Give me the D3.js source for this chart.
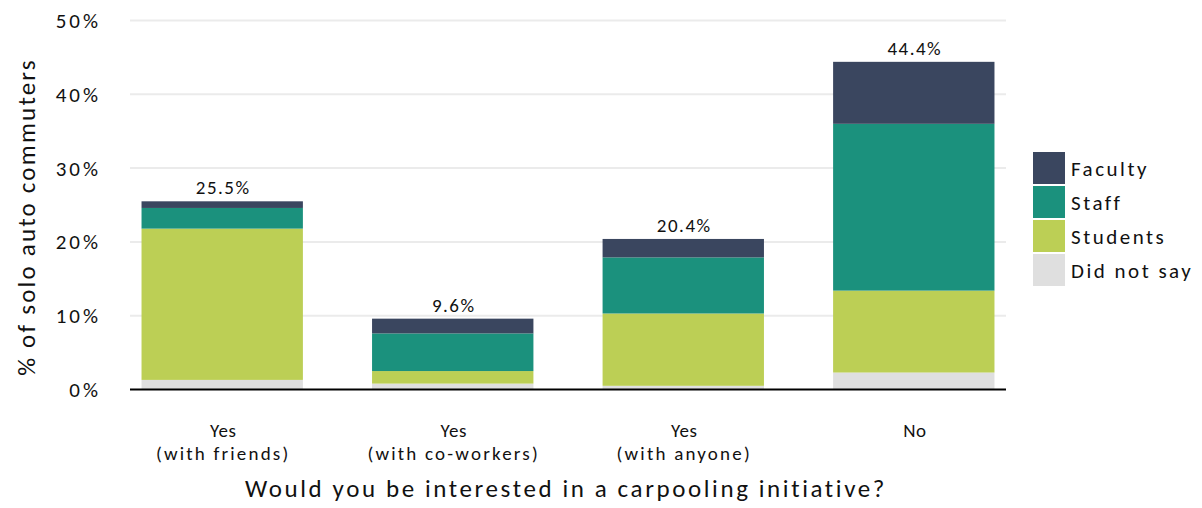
<!DOCTYPE html>
<html>
<head>
<meta charset="utf-8">
<script src="https://cdn.jsdelivr.net/npm/d3@7"></script>
<style>
  body { margin: 0; background: #fff; }
  text { font-family: Carlito, Calibri, Lato, sans-serif; fill: #111; }
</style>
</head>
<body>
<svg width="1202" height="508"></svg>
<script>
// categories (x axis), two lines each
const categories = ['Yes\n(with friends)', 'Yes\n(with co-workers)', 'Yes\n(with anyone)', 'No'];
const groups = ['Did not say', 'Students', 'Staff', 'Faculty'];

// share of solo auto commuters, in %
const didNotSay = [1.3, 0.8, 0.5, 2.3];
const students  = [20.5, 1.7, 9.8, 11.1];
const staff     = [2.8, 5.1, 7.6, 22.6];
const faculty   = [0.9, 2.0, 2.5, 8.4];
const totals    = [25.5, 9.6, 20.4, 44.4];

const yTicks = [0, 10, 20, 30, 40, 50];

const colors = {
    'Faculty': '#3a465f',
    'Staff': '#1b917d',
    'Students': '#bccf55',
    'Did not say': '#dfdfdf'
};

const rows = categories.map((c, i) => ({
    cat: c,
    'Did not say': didNotSay[i],
    'Students': students[i],
    'Staff': staff[i],
    'Faculty': faculty[i],
    total: totals[i]
}));

const svg = d3.select('svg');
const plotLeft = 130, plotRight = 1006, plotTop = 20.5, plotBottom = 389.5;

const x = d3.scaleBand()
    .domain(categories)
    .range([plotLeft, plotRight])
    .paddingInner(0.3)
    .paddingOuter(0.05);

const y = d3.scaleLinear()
    .domain([0, 50])
    .range([plotBottom, plotTop]);

// gridlines
svg.append('g')
    .selectAll('line')
    .data(yTicks.filter(t => t > 0))
    .enter()
    .append('line')
    .attr('x1', plotLeft).attr('x2', plotRight)
    .attr('y1', d => y(d)).attr('y2', d => y(d))
    .attr('stroke', '#ebebeb')
    .attr('stroke-width', 2);

// y tick labels
svg.append('g')
    .selectAll('text')
    .data(yTicks)
    .enter()
    .append('text')
    .attr('x', 101)
    .attr('y', d => y(d))
    .attr('dy', '0.36em')
    .attr('text-anchor', 'end')
    .style('font-size', '21px')
    .style('letter-spacing', '3px')
    .text(d => d + '%');

// stacked bars
const stacked = d3.stack().keys(groups)(rows);

svg.append('g')
    .selectAll('g')
    .data(stacked)
    .enter()
    .append('g')
    .attr('fill', s => colors[s.key])
    .selectAll('rect')
    .data(s => s)
    .enter()
    .append('rect')
    .attr('x', d => x(d.data.cat))
    .attr('width', x.bandwidth())
    .attr('y', d => y(d[1]))
    .attr('height', d => y(d[0]) - y(d[1]));

// baseline
svg.append('line')
    .attr('x1', plotLeft).attr('x2', plotRight)
    .attr('y1', plotBottom).attr('y2', plotBottom)
    .attr('stroke', '#000')
    .attr('stroke-width', 2);

// totals above bars
svg.append('g')
    .selectAll('text')
    .data(rows)
    .enter()
    .append('text')
    .attr('x', d => x(d.cat) + x.bandwidth() / 2 + 1)
    .attr('y', d => y(d.total) - 7)
    .attr('text-anchor', 'middle')
    .style('font-size', '19px')
    .style('letter-spacing', '1.5px')
    .text(d => d.total.toFixed(1) + '%');

// x tick labels, one text per line
categories.forEach(c => {
    c.split('\n').forEach((line, i) => {
        svg.append('text')
            .attr('x', x(c) + x.bandwidth() / 2 + 1)
            .attr('y', 437 + i * 23)
            .attr('text-anchor', 'middle')
            .style('font-size', '19px')
            .style('letter-spacing', i === 0 ? '0.5px' : '2.2px')
            .text(line);
    });
});

// axis titles
svg.append('text')
    .attr('x', 566)
    .attr('y', 497)
    .attr('text-anchor', 'middle')
    .style('font-size', '25px')
    .style('letter-spacing', '2.6px')
    .text('Would you be interested in a carpooling initiative?');

svg.append('text')
    .attr('transform', 'translate(35,' + ((plotTop + plotBottom) / 2 + 12) + ') rotate(-90)')
    .attr('text-anchor', 'middle')
    .style('font-size', '25px')
    .style('letter-spacing', '2.2px')
    .text('% of solo auto commuters');

// legend
const legend = svg.append('g')
    .selectAll('g')
    .data(groups.slice().reverse())
    .enter()
    .append('g')
    .attr('transform', (d, i) => 'translate(1033,' + (152 + i * 34) + ')');
legend.append('rect')
    .attr('width', 32)
    .attr('height', 32)
    .attr('fill', d => colors[d]);
legend.append('text')
    .attr('x', 38)
    .attr('y', 16)
    .attr('dy', '0.36em')
    .style('font-size', '21px')
    .style('letter-spacing', '2.5px')
    .text(d => d);
</script>
</body>
</html>
